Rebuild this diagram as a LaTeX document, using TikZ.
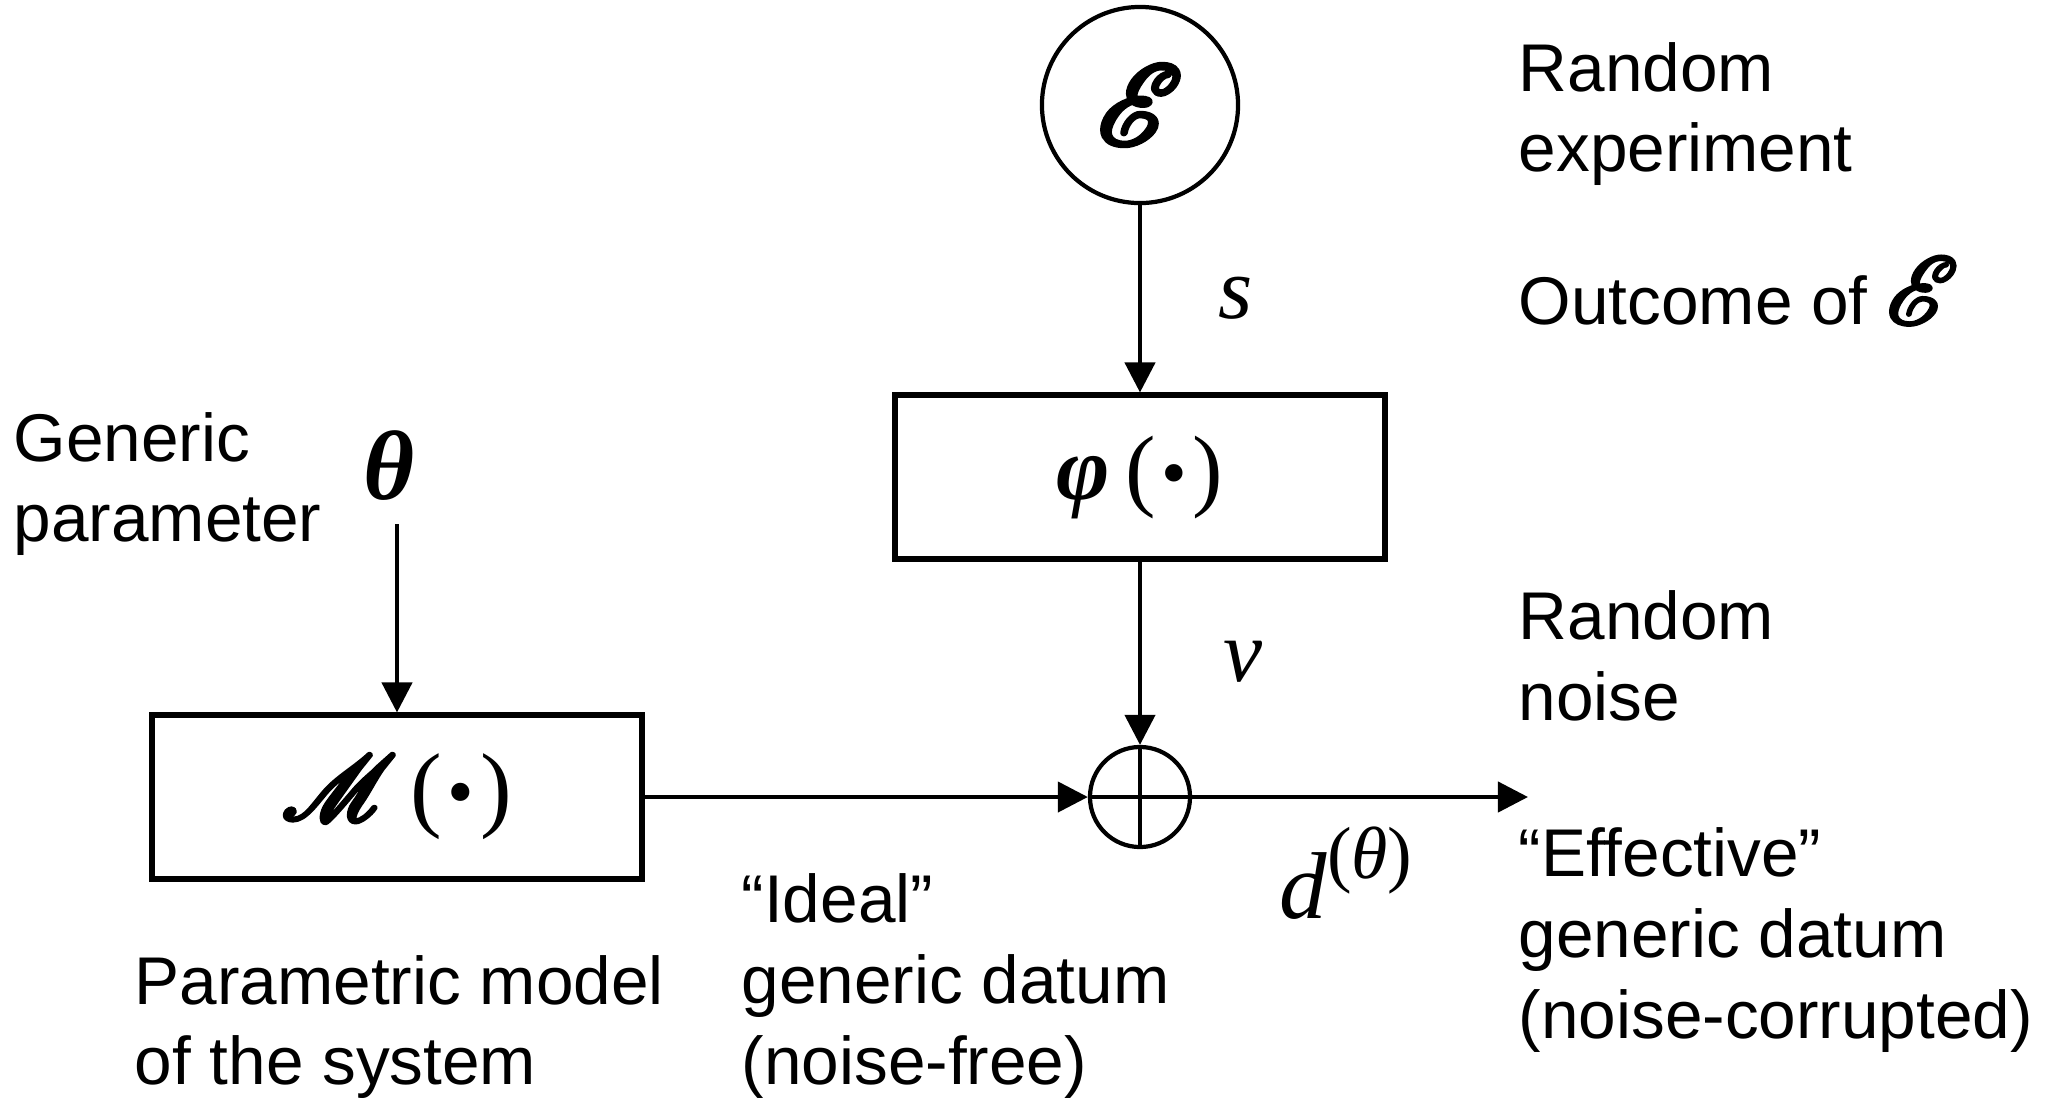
\documentclass[tikz,border=0pt]{standalone}
\usepackage{fontspec}
\usepackage{mathrsfs}
\setmainfont{Liberation Sans}
\newfontfamily\tms{Liberation Serif}
\usepackage{tikz}
\usetikzlibrary{positioning,arrows.meta}
\tikzset{
  block/.style={draw, line width=1.7pt, minimum width=4.9cm, minimum height=1.63cm,
                inner sep=0pt},
  event/.style={draw, circle, line width=1.2pt, minimum size=1.96cm, inner sep=0pt},
  adder/.style={draw, circle, line width=1.2pt, minimum size=1.0cm, inner sep=0pt},
  note/.style={align=left, anchor=west, inner sep=0pt,
               font=\fontsize{19.2}{23}\selectfont},
  sym/.style={inner sep=0pt, font=\tms\itshape\fontsize{25}{27}\selectfont},
  arrow/.style={-{Triangle[length=0.3cm, width=0.3cm]}, line width=1.2pt},
}
% brush-like script letter: fill and stroke the glyph
\newcommand{\heavy}[2]{%
  \special{pdf:literal direct 1 J 1 j 2 Tr #1 w}#2\special{pdf:literal direct 0 Tr 0.4 w}}
\newcommand{\argdot}{{\tms(\hspace{0.06em}\raisebox{0.02em}{\scalebox{0.8}{•}}\hspace{0.06em})}}

\begin{document}
\begin{tikzpicture}[x=0.01cm, y=-0.01cm]
  \path[use as bounding box] (0,0) rectangle (2056,1099);

  % main chain
  \node[event] (exp) at (1140,105)
    {\scalebox{1.3}{\fontsize{24.88}{28}\selectfont\heavy{1.1}{$\mathscr{E}$}}};
  \node[block] (phi) at (1140,477)
    {\fontsize{26}{28}\selectfont{\tms\bfseries\itshape φ}\,\argdot};
  \node[adder] (sum) at (1140,797) {};
  \node[block] (model) at (397,797)
    {\fontsize{24.88}{28}\selectfont\scalebox{1.05}{\heavy{1.1}{$\mathscr{M}$}}\,%
     \fontsize{27}{29}\selectfont\argdot};
  \coordinate (out) at (1528,797);
  \coordinate (thin) at (397,524);

  % symbols on the lines
  \node[sym] (s) at (1236,298) {s};
  \node[sym] (v) at (1243,662) {v};
  \node[sym, font=\tms\bfseries\itshape\fontsize{28}{30}\selectfont] (theta) at (389,466) {θ};
  \node[sym, font=\tms\itshape\fontsize{27}{29}\selectfont] (d) at (1346,873)
    {d\raisebox{0.42em}{\fontsize{21}{23}\selectfont\upshape(\itshape θ\upshape)}};

  % notes
  \node[note] (expnote) at (1518,114) {Random\\experiment};
  \node[note] (outnote) at (1518,291)
    {Outcome of \scalebox{1.1}{\fontsize{24.88}{28}\selectfont\heavy{0.9}{$\mathscr{E}$}}};
  \node[note] (noisenote) at (1518,656) {Random\\noise};
  \node[note] (effnote) at (1518,940) {“Effective”\\generic datum\\(noise-corrupted)};
  \node[note] (idealnote) at (741,986) {“Ideal”\\generic datum\\(noise-free)};
  \node[note] (modelnote) at (134,1027) {Parametric model\\of the system};
  \node[note] (parnote) at (13,484) {Generic\\parameter};

  % connectors
  \draw[arrow] (exp) -- (phi);
  \draw[arrow] (phi) -- (sum);
  \draw[arrow] (thin) -- (model);
  \draw[arrow] (model) -- (sum);
  \draw[arrow] (sum) -- (out);
  \draw[line width=1.2pt] (sum.north) -- (sum.south) (sum.west) -- (sum.east);
\end{tikzpicture}
\end{document}
